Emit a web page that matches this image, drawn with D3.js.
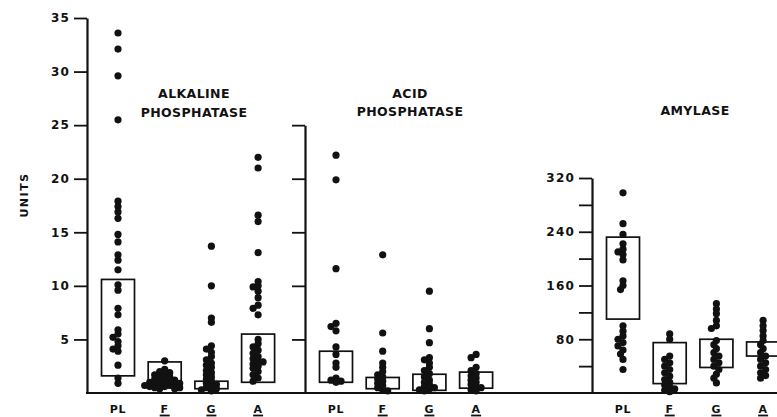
<!DOCTYPE html>
<html><head><meta charset="utf-8">
<script src="https://cdn.jsdelivr.net/npm/d3@7"></script>
<style>
body{margin:0;background:#fff;}
text{font-family:"DejaVu Sans",sans-serif;font-weight:bold;fill:#111;}
</style></head>
<body><svg id="c" width="777" height="417"></svg>
<script>
// ---- data ----
const categories = ["PL", "F", "G", "A"];
const underlined = ["F", "G", "A"];

const alkPL = [33.6, 32.1, 29.6, 25.5, 17.9, 17.4, 16.9, 16.3, 14.8, 14.1, 12.9, 12.4, 11.5, 10.1, 9.6, 7.9, 7.3, 5.9, 5.5, 5.2, 4.8, 4.4, 4.1, 3.9, 2.6, 1.4, 0.9];
const alkF = [3.0, 2.2, 2.0, 1.9, 1.8, 1.7, 1.6, 1.5, 1.4, 1.3, 1.2, 1.2, 1.1, 1.0, 1.0, 0.9, 0.9, 0.8, 0.8, 0.7, 0.7, 0.6, 0.6, 0.5, 0.5, 0.4, 0.4];
const alkG = [13.7, 10.0, 7.0, 6.6, 4.4, 4.1, 3.8, 3.4, 3.1, 2.8, 2.6, 2.4, 2.1, 1.9, 1.7, 1.5, 1.3, 1.1, 0.9, 0.8, 0.6, 0.5, 0.4, 0.3, 0.2];
const alkA = [22.0, 21.0, 16.6, 16.0, 13.1, 10.4, 10.0, 9.9, 9.5, 8.9, 8.2, 7.9, 7.3, 5.0, 4.6, 4.3, 4.0, 3.7, 3.4, 3.2, 3.0, 2.9, 2.7, 2.5, 2.3, 2.0, 1.7, 1.4, 1.1];
const alkBoxLow = [1.6, 0.5, 0.4, 1.0];
const alkBoxHigh = [10.6, 2.9, 1.1, 5.5];

const acidPL = [22.2, 19.9, 11.6, 6.5, 6.2, 5.8, 4.3, 3.6, 2.8, 2.4, 1.4, 1.2, 1.1, 1.0];
const acidF = [12.9, 5.6, 3.9, 2.8, 2.4, 2.0, 1.7, 1.5, 1.3, 1.1, 0.9, 0.7, 0.5, 0.3, 0.2];
const acidG = [9.5, 6.0, 4.7, 3.3, 3.1, 2.8, 2.4, 2.1, 1.8, 1.5, 1.2, 1.0, 0.8, 0.6, 0.5, 0.4, 0.3, 0.2];
const acidA = [3.6, 3.3, 2.4, 2.1, 1.8, 1.6, 1.4, 1.2, 1.0, 0.8, 0.6, 0.5, 0.3, 0.2];
const acidBoxLow = [1.0, 0.4, 0.25, 0.45];
const acidBoxHigh = [3.9, 1.45, 1.75, 1.95];

const amyPL = [298, 252, 236, 222, 214, 210, 206, 198, 167, 160, 154, 100, 92, 85, 80, 75, 70, 64, 58, 50, 35];
const amyF = [88, 80, 55, 50, 45, 40, 35, 30, 25, 20, 16, 12, 9, 6, 4, 2];
const amyG = [133, 125, 118, 108, 100, 96, 78, 72, 66, 60, 55, 50, 45, 40, 35, 28, 22, 15];
const amyA = [108, 100, 93, 85, 78, 72, 66, 60, 55, 50, 45, 40, 35, 30, 26, 22];
const amyBoxLow = [110, 14, 38, 55];
const amyBoxHigh = [232, 75, 80, 76];

const phosTicks = [5, 10, 15, 20, 25, 30, 35];
const acidTicks = [5, 10, 15, 20, 25];
const amyTicks = [40, 80, 120, 160, 200, 240, 280, 320];
const amyTickLabels = [80, 160, 240, 320];
const yLabel = "UNITS";

// ---- layout ----
const svg = d3.select("#c");
const base = 393;
const yPhos = d3.scaleLinear().domain([0, 35]).range([base, 18]);
const yAcidAxis = d3.scaleLinear().domain([0, 25]).range([base, yPhos(25)]);
const yAmy = d3.scaleLinear().domain([0, 320]).range([base, 178]);

const panels = [
  {axisX: 87, y: yPhos, axisScale: yPhos, ticks: phosTicks, labels: phosTicks,
   series: [alkPL, alkF, alkG, alkA], lo: alkBoxLow, hi: alkBoxHigh,
   title: ["ALKALINE", "PHOSPHATASE"], titleX: 194, titleY: [98, 117]},
  {axisX: 305, y: yPhos, axisScale: yAcidAxis, ticks: acidTicks, labels: [],
   series: [acidPL, acidF, acidG, acidA], lo: acidBoxLow, hi: acidBoxHigh,
   title: ["ACID", "PHOSPHATASE"], titleX: 410, titleY: [98, 116]},
  {axisX: 592, y: yAmy, axisScale: yAmy, ticks: amyTicks, labels: amyTickLabels,
   series: [amyPL, amyF, amyG, amyA], lo: amyBoxLow, hi: amyBoxHigh,
   title: ["AMYLASE"], titleX: 695, titleY: [115]}
];

// baseline
svg.append("line").attr("x1", 86).attr("x2", 777).attr("y1", base).attr("y2", base)
  .attr("stroke", "#111").attr("stroke-width", 2.2);

function dodge(vals, y, cx, step, minD) {
  const placed = [];
  vals.slice().sort((a, b) => b - a).forEach(v => {
    const yy = y(v);
    let px = cx;
    for (let k = 0; k < 30; k++) {
      const off = k === 0 ? 0 : (k % 2 ? -1 : 1) * Math.ceil(k / 2) * step;
      if (placed.every(p => Math.hypot(p.x - (cx + off), p.y - yy) >= minD)) { px = cx + off; break; }
    }
    placed.push({x: px, y: yy});
  });
  return placed;
}

panels.forEach(p => {
  const g = svg.append("g");
  const axis = d3.axisLeft(p.axisScale).tickValues(p.ticks).tickSize(13).tickSizeOuter(0).tickPadding(4)
    .tickFormat(d => p.labels.includes(d) ? d : "");
  const ag = g.append("g").attr("transform", `translate(${p.axisX},0)`).call(axis);
  ag.select(".domain").attr("stroke", "#111").attr("stroke-width", 2.2);
  ag.selectAll(".tick line").attr("stroke", "#111").attr("stroke-width", 1.8);
  ag.selectAll(".tick text").attr("font-size", 12).attr("letter-spacing", 1.2)
    .attr("font-family", "DejaVu Sans").attr("font-weight", "bold").attr("fill", "#111");

  const x = d3.scalePoint().domain(categories).range([p.axisX + 31, p.axisX + 31 + 3 * 46.7]);
  const bw = 33;
  g.selectAll("rect.box").data(categories).join("rect")
    .attr("x", (c) => x(c) - bw / 2)
    .attr("y", (c, i) => p.y(p.hi[i]))
    .attr("width", bw)
    .attr("height", (c, i) => p.y(p.lo[i]) - p.y(p.hi[i]))
    .attr("fill", "none").attr("stroke", "#111").attr("stroke-width", 1.7);
  categories.forEach((c, i) => {
    const pts = dodge(p.series[i], p.y, x(c), 2.5, 4.2);
    g.selectAll(null).data(pts).join("circle")
      .attr("cx", d => d.x).attr("cy", d => d.y).attr("r", 3.6).attr("fill", "#111");
  });
  categories.forEach(c => {
    g.append("text").attr("x", x(c)).attr("y", 413).attr("text-anchor", "middle")
      .attr("font-size", 11).attr("letter-spacing", 0.8).text(c);
    if (underlined.includes(c)) {
      g.append("line").attr("x1", x(c) - 5).attr("x2", x(c) + 5).attr("y1", 415.5).attr("y2", 415.5)
        .attr("stroke", "#111").attr("stroke-width", 1.8);
    }
  });
  p.title.forEach((t, k) => {
    g.append("text").attr("x", p.titleX).attr("y", p.titleY[k]).attr("text-anchor", "middle")
      .attr("font-size", 12.5).attr("letter-spacing", 0.4).text(t);
  });
});

svg.append("text").attr("transform", "translate(28,195) rotate(-90)")
  .attr("text-anchor", "middle").attr("font-size", 11).attr("letter-spacing", 1.5).text(yLabel);
</script></body></html>
